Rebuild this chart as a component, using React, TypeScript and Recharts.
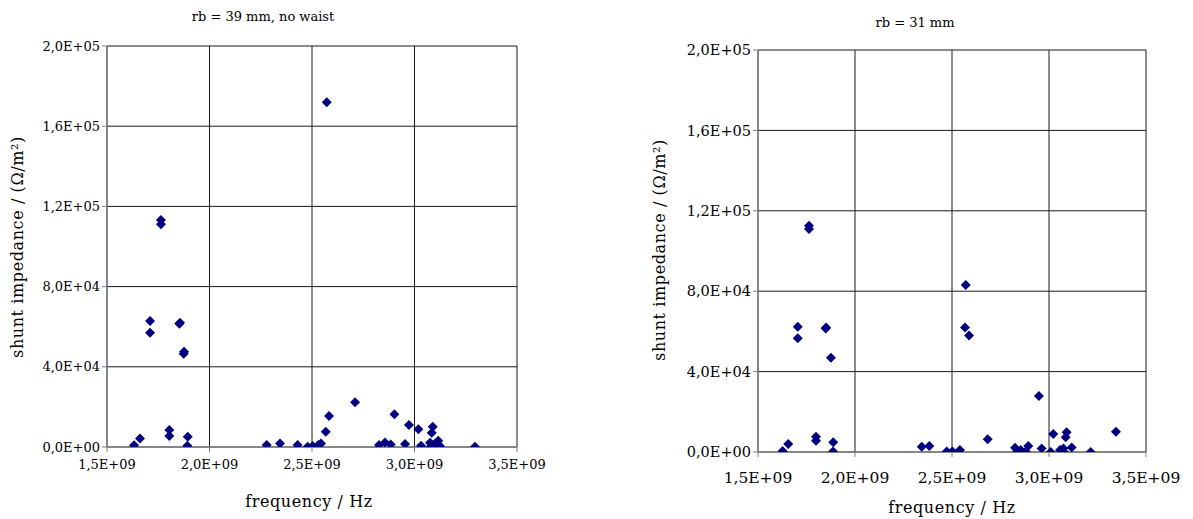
import React from 'react';
import { ScatterChart, Scatter, XAxis, YAxis, CartesianGrid, Label } from 'recharts';

// frequency in GHz, shunt impedance in Ohm/m^2
const leftFreq = [
  1.632, 1.661, 1.71, 1.71, 1.763, 1.763, 1.804, 1.804, 1.856, 1.853, 1.876, 1.874, 1.894, 1.892,
  2.279, 2.344, 2.43, 2.479, 2.503, 2.531, 2.544, 2.567, 2.572, 2.583, 2.71, 2.827, 2.856, 2.884,
  2.902, 2.954, 2.973, 3.019, 3.032, 3.076, 3.079, 3.084, 3.089, 3.1, 3.116, 3.124, 3.295,
];
const leftImp = [
  850, 4300, 62800, 57000, 113200, 111100, 8500, 5500, 62000, 61500, 47500, 46500, 5100, 650,
  1000, 1800, 1000, 150, 500, 1000, 1800, 7600, 171900, 15500, 22300, 1000, 2300, 1300,
  16300, 1500, 11000, 8800, 650, 2100, 150, 7100, 10100, 1800, 3100, 500, 150,
];

const rightFreq = [
  1.627, 1.656, 1.705, 1.705, 1.763, 1.763, 1.799, 1.799, 1.851, 1.849, 1.876, 1.888, 1.887,
  2.344, 2.383, 2.473, 2.502, 2.541, 2.571, 2.567, 2.588, 2.684, 2.825, 2.837, 2.854, 2.88,
  2.893, 2.948, 2.962, 3.009, 3.022, 3.057, 3.074, 3.077, 3.086, 3.091, 3.117, 3.215, 3.345,
];
const rightImp = [
  500, 4000, 62300, 56600, 112600, 110900, 7600, 5600, 62000, 61500, 46900, 4800, 200,
  2600, 3000, 200, 200, 1000, 83100, 62000, 57900, 6300, 2100, 200, 1000, 200,
  3000, 27900, 1800, 0, 9000, 1000, 1800, 0, 7300, 9800, 2300, 0, 10100,
];

const xTicks = [1.5e9, 2.0e9, 2.5e9, 3.0e9, 3.5e9];
const xTickLabels = ['1,5E+09', '2,0E+09', '2,5E+09', '3,0E+09', '3,5E+09'];
const yTicks = [0, 4e4, 8e4, 1.2e5, 1.6e5, 2e5];
const yTickLabels = ['0,0E+00', '4,0E+04', '8,0E+04', '1,2E+05', '1,6E+05', '2,0E+05'];

const leftData = leftFreq.map((f, i) => ({ f: f * 1e9, z: leftImp[i] }));
const rightData = rightFreq.map((f, i) => ({ f: f * 1e9, z: rightImp[i] }));

const FONT = '"DejaVu Serif", serif';
const NAVY = '#000080';

const Diamond = (props: any) => {
  const { cx, cy } = props;
  const r = 5;
  return (
    <polygon
      points={`${cx},${cy - r} ${cx + r},${cy} ${cx},${cy + r} ${cx - r},${cy}`}
      fill={NAVY}
    />
  );
};

type PanelProps = {
  data: { f: number; z: number }[];
  title: string;
  left: number;
  width: number;
  margin: { top: number; right: number; bottom: number; left: number };
  yAxisWidth: number;
  tickSize: number;
  xTickSize: number;
  xTickMargin: number;
  titlePos: [number, number];
  yLabelPos: [number, number];
  xLabelPos: [number, number];
};

const Panel: React.FC<PanelProps> = (p) => {
  const xFmt = (v: number) => xTickLabels[xTicks.indexOf(v)] ?? '';
  const yFmt = (v: number) => yTickLabels[yTicks.indexOf(v)] ?? '';
  return (
    <div style={{ position: 'absolute', left: p.left, top: 0 }}>
      <ScatterChart width={p.width} height={519} margin={p.margin}>
        <CartesianGrid stroke="#1a1a1a" strokeWidth={1} />
        <XAxis
          type="number"
          dataKey="f"
          domain={[1.5e9, 3.5e9]}
          ticks={xTicks}
          tickFormatter={xFmt}
          stroke="#808080"
          tickSize={5}
          tickMargin={p.xTickMargin}
          tick={{ fill: '#000', fontFamily: FONT, fontSize: p.xTickSize }}
          height={30}
          allowDataOverflow
        >
          <Label
            content={() => (
              <text
                x={p.xLabelPos[0]}
                y={p.xLabelPos[1]}
                textAnchor="middle"
                fontFamily={FONT}
                fontSize={16}
                letterSpacing={0.6}
                fill="#000"
              >
                frequency / Hz
              </text>
            )}
          />
        </XAxis>
        <YAxis
          type="number"
          dataKey="z"
          domain={[0, 2e5]}
          ticks={yTicks}
          tickFormatter={yFmt}
          stroke="#808080"
          tickSize={5}
          width={p.yAxisWidth}
          tick={{ fill: '#000', fontFamily: FONT, fontSize: p.tickSize }}
          allowDataOverflow
        >
          <Label
            content={() => (
              <text
                x={p.yLabelPos[0]}
                y={p.yLabelPos[1]}
                transform={`rotate(-90 ${p.yLabelPos[0]} ${p.yLabelPos[1]})`}
                textAnchor="middle"
                fontFamily={FONT}
                fontSize={16}
                letterSpacing={0.6}
                fill="#000"
              >
                shunt impedance / (Ω/m²)
              </text>
            )}
          />
        </YAxis>
        <Scatter data={p.data} shape={<Diamond />} isAnimationActive={false} />
      </ScatterChart>
      <div
        style={{
          position: 'absolute',
          left: p.titlePos[0] - 150,
          top: p.titlePos[1],
          width: 300,
          textAlign: 'center',
          fontFamily: FONT,
          fontSize: 13,
          color: '#000',
        }}
      >
        {p.title}
      </div>
    </div>
  );
};

const App: React.FC = () => {
  return (
    <div style={{ position: 'absolute', left: 0, top: 0, width: 1193, height: 519, background: '#fff' }}>
      <Panel
        data={leftData}
        title="rb = 39 mm, no waist"
        left={0}
        width={560}
        margin={{ top: 46, right: 43, bottom: 42, left: 35 }}
        yAxisWidth={72}
        tickSize={13}
        xTickSize={13}
        xTickMargin={8}
        titlePos={[263, 9]}
        yLabelPos={[23, 247]}
        xLabelPos={[309, 507]}
      />
      <Panel
        data={rightData}
        title="rb = 31 mm"
        left={600}
        width={593}
        margin={{ top: 50, right: 47, bottom: 37, left: 78 }}
        yAxisWidth={80}
        tickSize={14.5}
        xTickSize={15.5}
        xTickMargin={15}
        titlePos={[315, 15]}
        yLabelPos={[65, 250]}
        xLabelPos={[352, 513]}
      />
    </div>
  );
};

export default App;
